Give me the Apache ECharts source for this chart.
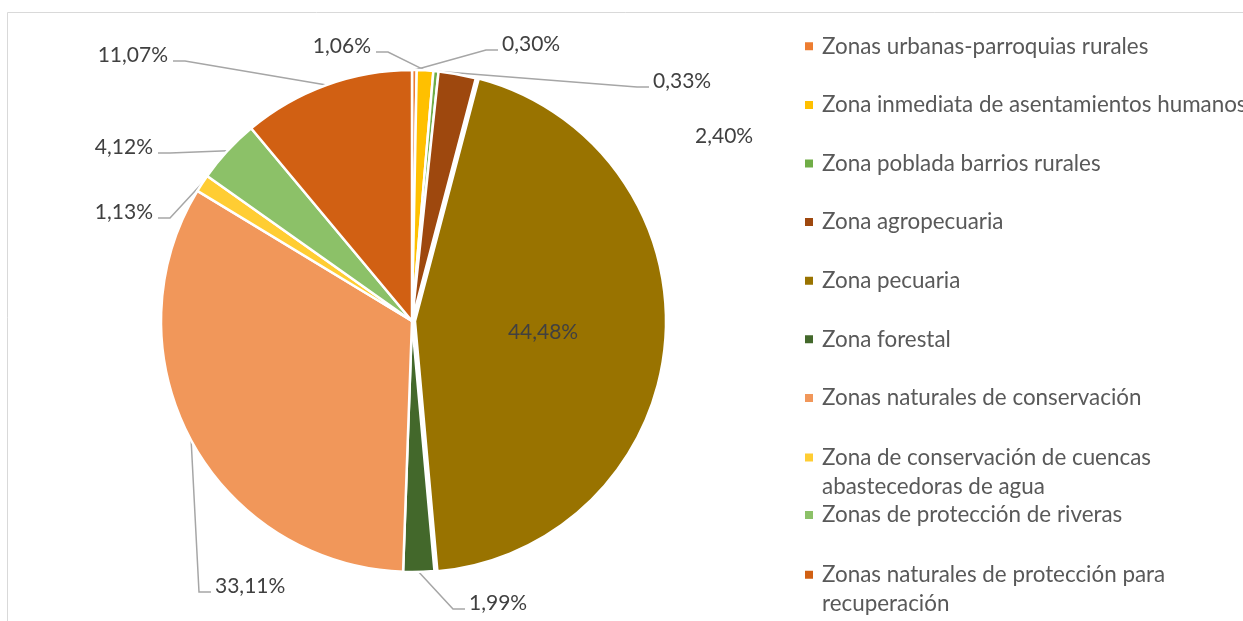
<!DOCTYPE html>
<html>
<head>
<meta charset="utf-8">
<script src="https://cdn.jsdelivr.net/npm/echarts@6/dist/echarts.min.js"></script>
<style>
  html, body { margin: 0; padding: 0; background: #fff; }
  #chart { width: 1243px; height: 621px; }
</style>
</head>
<body>
<div id="chart"></div>
<script>
const categories = [
  'Zonas urbanas-parroquias rurales',
  'Zona inmediata de asentamientos humanos',
  'Zona poblada barrios rurales',
  'Zona agropecuaria',
  'Zona pecuaria',
  'Zona forestal',
  'Zonas naturales de conservación',
  'Zona de conservación de cuencas\nabastecedoras de agua',
  'Zonas de protección de riveras',
  'Zonas naturales de protección para\nrecuperación'
]
const values = [0.30, 1.06, 0.33, 2.40, 44.48, 1.99, 33.11, 1.13, 4.12, 11.07]
const colors = ['#ED7D31', '#FFC000', '#70AD47', '#9E480E', '#997300', '#43682B', '#F1975A', '#FFCD33', '#8CC168', '#D16013']

// where each outside label sits: [x of text edge, y of text middle, edge]
const labelSpots = [
  [502, 44, 'left'],
  [371, 46, 'right'],
  [653, 81, 'left'],
  [695, 136, 'left'],
  null,
  [469, 603, 'left'],
  [215, 586, 'left'],
  [153, 212, 'right'],
  [153, 147, 'right'],
  [168, 55, 'right']
]

const fmt = v => v.toFixed(2).replace('.', ',') + '%'
const font = 'Lato, "Open Sans", sans-serif'

// square marker sitting next to the first of two text lines
const topSquare = 'path://M0,0L0.01,0M0,9.5L10,9.5L10,19.5L0,19.5ZM10,58L9.99,58'

const chart = echarts.init(document.getElementById('chart'))

const legends = categories.map((name, i) => {
  const twoLines = name.indexOf('\n') >= 0
  return {
    orient: 'vertical',
    left: 803,
    top: 46.3 + 58.6 * i - 14.5,
    padding: 0,
    itemGap: 0,
    itemWidth: 10,
    itemHeight: twoLines ? 58 : 10,
    selectedMode: false,
    data: [twoLines ? { name: name, icon: topSquare } : { name: name, icon: 'rect' }],
    textStyle: {
      fontFamily: font,
      fontSize: 22.4,
      color: '#595959',
      lineHeight: 29,
      backgroundColor: 'rgba(0,0,0,0)',
      padding: [0, 0, 0, 3]
    }
  }
})

const option = {
  animation: false,
  backgroundColor: '#fff',
  graphic: [{
    type: 'rect',
    silent: true,
    shape: { x: 7.5, y: 12.5, width: 1400, height: 800 },
    style: { fill: 'none', stroke: '#D9D9D9', lineWidth: 1 }
  }],
  legend: legends,
  series: [{
    type: 'pie',
    center: [412, 321],
    radius: 251,
    startAngle: 90,
    clockwise: true,
    selectedMode: 'single',
    selectedOffset: 3,
    avoidLabelOverlap: false,
    emphasis: { disabled: true },
    itemStyle: { borderColor: '#fff', borderWidth: 2.5 },
    label: {
      color: '#404040',
      fontFamily: font,
      fontSize: 21,
      formatter: p => fmt(p.value)
    },
    labelLine: {
      lineStyle: { color: '#A6A6A6', width: 1.5 }
    },
    labelLayout: function (params) {
      const spot = labelSpots[params.dataIndex]
      if (!spot) return {}
      const [x, y, edge] = spot
      const ex = edge === 'left' ? x - 4 : x + 5
      const ey = y + 6
      const cx = edge === 'left' ? ex - 12 : ex + 12
      const start = params.labelLinePoints ? params.labelLinePoints[0] : [cx, ey]
      return {
        x: x,
        y: y,
        align: edge,
        verticalAlign: 'middle',
        labelLinePoints: [start, [cx, ey], [ex, ey]]
      }
    },
    data: categories.map((name, i) => {
      const item = { name: name, value: values[i], itemStyle: { color: colors[i] } }
      if (i === 4) {
        item.selected = true
        item.label = { position: 'inside' }
      }
      if (i === 3) item.labelLine = { show: false }
      return item
    })
  }]
}

chart.setOption(option)
</script>
</body>
</html>
